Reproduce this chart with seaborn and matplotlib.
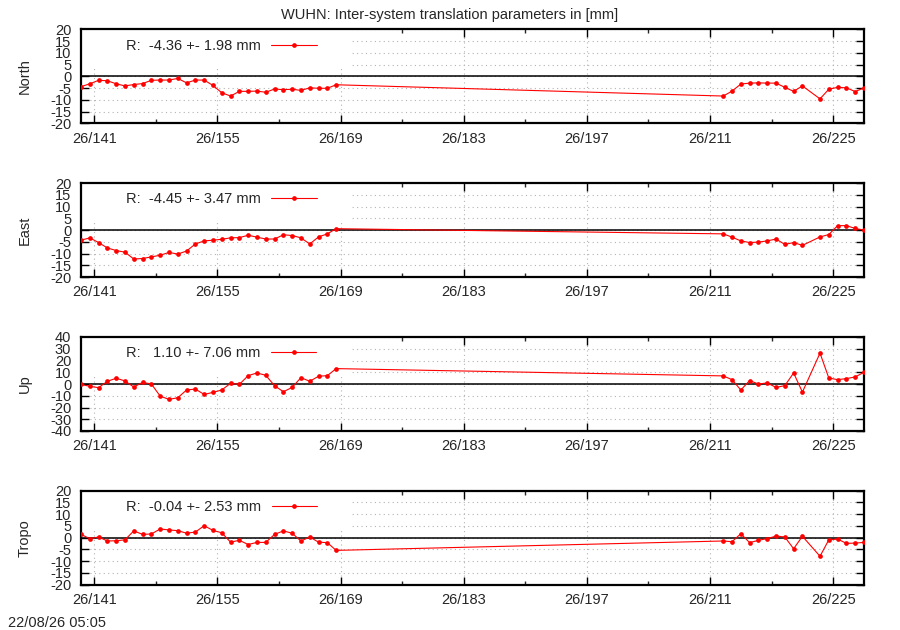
import numpy as np
import pandas as pd
import matplotlib
matplotlib.use("Agg")
import matplotlib.pyplot as plt
from matplotlib.patches import Rectangle
from matplotlib.ticker import FixedLocator
import seaborn as sns

# ---------------- data ----------------
epochs = [139.5, 140.5, 141.5, 142.5, 143.5, 144.5, 145.5, 146.5, 147.5, 148.5,
          149.5, 150.5, 151.5, 152.5, 153.5, 154.5, 155.5, 156.5, 157.5, 158.5,
          159.5, 160.5, 161.5, 162.5, 163.5, 164.5, 165.5, 166.5, 167.5, 168.5,
          212.5, 213.5, 214.5, 215.5, 216.5, 217.5, 218.5, 219.5, 220.5, 221.5,
          223.5, 224.5, 225.5, 226.5, 227.5, 228.5]

north = [-4.4, -3.2, -1.7, -1.9, -3.2, -4.1, -3.5, -3.1, -1.7, -1.6,
         -1.6, -0.9, -2.8, -1.6, -1.6, -3.9, -7.0, -8.4, -6.4, -6.4,
         -6.3, -6.8, -5.4, -5.7, -5.5, -6.0, -4.9, -5.1, -5.1, -3.6,
         -8.4, -6.3, -3.3, -2.9, -2.8, -2.9, -2.9, -4.7, -6.4, -4.1,
         -9.6, -5.5, -4.7, -4.9, -6.5, -4.9]

east = [-4.3, -3.3, -5.3, -7.6, -8.7, -9.4, -12.3, -12.1, -11.4, -10.7,
        -9.5, -10.2, -8.9, -5.9, -4.6, -4.3, -3.9, -3.3, -3.2, -2.2,
        -3.0, -3.8, -3.8, -2.0, -2.3, -3.3, -5.9, -2.9, -1.6, 0.6,
        -1.6, -3.0, -4.6, -5.3, -5.1, -4.6, -3.8, -6.1, -5.3, -6.5,
        -2.9, -1.9, 1.9, 1.9, 0.7, 0.0]

up = [-0.3, -2.0, -3.1, 2.3, 4.9, 2.6, -2.6, 1.4, 0.0, -10.3,
      -13.1, -11.7, -5.1, -4.3, -8.9, -7.1, -5.1, 0.6, -0.3, 7.1,
      9.4, 7.4, -1.4, -6.6, -2.9, 5.4, 2.3, 6.6, 7.1, 13.1,
      6.9, 3.7, -5.1, 2.9, 0.0, 0.9, -2.9, -1.4, 9.4, -6.9,
      26.3, 5.1, 3.7, 4.6, 6.0, 10.0]

tropo = [1.4, -0.4, 0.3, -1.4, -1.3, -0.9, 2.9, 1.4, 1.6, 3.7,
         3.3, 3.0, 1.9, 2.4, 5.1, 3.1, 2.1, -1.9, -1.1, -2.9,
         -2.0, -2.0, 1.4, 2.9, 1.9, -1.4, 0.3, -1.9, -2.1, -5.4,
         -1.4, -1.7, 1.7, -2.1, -1.1, -0.4, 0.7, 0.3, -4.7, 0.6,
         -7.9, -0.9, -0.6, -2.4, -2.3, -2.0]

components = ["North", "East", "Up", "Tropo"]
series = [north, east, up, tropo]
means = [-4.36, -4.45, 1.10, -0.04]
sigmas = [1.98, 3.47, 7.06, 2.53]
ylims = [20, 20, 40, 20]
ysteps = [5, 5, 10, 5]

xtick_pos = [141, 155, 169, 183, 197, 211, 225]
xtick_labels = ["26/141", "26/155", "26/169", "26/183", "26/197", "26/211", "26/225"]
xminor_pos = [148, 162, 176, 190, 204, 218]

title = "WUHN: Inter-system translation parameters in [mm]"
stamp = "22/08/26 05:05"

# ---------------- style ----------------
sns.set_style("ticks")
plt.rcParams["font.family"] = ["Liberation Sans", "DejaVu Sans"]
FS = 10.5

fig = plt.figure(figsize=(9, 6.3), dpi=100)

W, H = 900.0, 630.0
left_px, right_px = 81.0, 864.0
tops = [29.3, 183.1, 337.0, 490.7]
height_px = 94.0

for i, (name, vals) in enumerate(zip(components, series)):
    top = tops[i]
    ax = fig.add_axes([left_px / W, 1 - (top + height_px) / H,
                       (right_px - left_px) / W, height_px / H])
    df = pd.DataFrame({"epoch": epochs, "value": vals})
    lab = "R: %6.2f +- %.2f mm" % (means[i], sigmas[i])
    sns.lineplot(data=df, x="epoch", y="value", ax=ax, color="#ff0000",
                 linewidth=0.8, marker="o", markersize=3.4, markeredgewidth=0,
                 sort=False, label=lab, zorder=3)
    ax.axhline(0, color="black", linewidth=1.1, zorder=2)

    ax.set_xlim(139.5, 228.5)
    lim = ylims[i]
    ax.set_ylim(-lim, lim)
    yt = list(range(-lim, lim + 1, ysteps[i]))
    ax.set_yticks(yt)
    ax.set_yticklabels([str(v) for v in yt], fontsize=FS)
    ax.set_xticks(xtick_pos)
    ax.set_xticklabels(xtick_labels, fontsize=FS)
    ax.xaxis.set_minor_locator(FixedLocator(xminor_pos))

    ax.tick_params(axis="both", which="major", direction="in", length=5.5,
                   width=1.0, top=True, right=True, color="black")
    ax.tick_params(axis="x", which="minor", direction="in", length=3,
                   width=1.0, top=True, bottom=True)
    ax.tick_params(axis="y", which="major", pad=7)
    ax.tick_params(axis="x", which="major", pad=6)

    for sp in ax.spines.values():
        sp.set_visible(True)
        sp.set_linewidth(1.6)
        sp.set_color("black")

    ax.set_axisbelow(True)
    ax.grid(True, which="major", color="#b4b4b4", linestyle=(0, (1, 3)),
            linewidth=0.8)
    ax.add_patch(Rectangle((0, 0.59), 0.346, 0.41, transform=ax.transAxes,
                           facecolor="white", edgecolor="none", zorder=1))

    ax.set_xlabel("")
    ax.set_ylabel(name, fontsize=FS)
    ax.yaxis.set_label_coords(-0.0626, 0.5)

    leg = ax.legend(loc="center left", bbox_to_anchor=(0.058, 0.826),
                    frameon=False, fontsize=FS, markerfirst=False,
                    handlelength=3.1, handletextpad=0.7, borderpad=0,
                    borderaxespad=0, numpoints=1)
    leg.set_zorder(5)

fig.text(0.5, 1 - 15.5 / H, title, ha="center", va="center", fontsize=FS)
fig.text(8 / W, 1 - 623 / H, stamp, ha="left", va="center", fontsize=FS)

fig.savefig("out.png", dpi=100)
